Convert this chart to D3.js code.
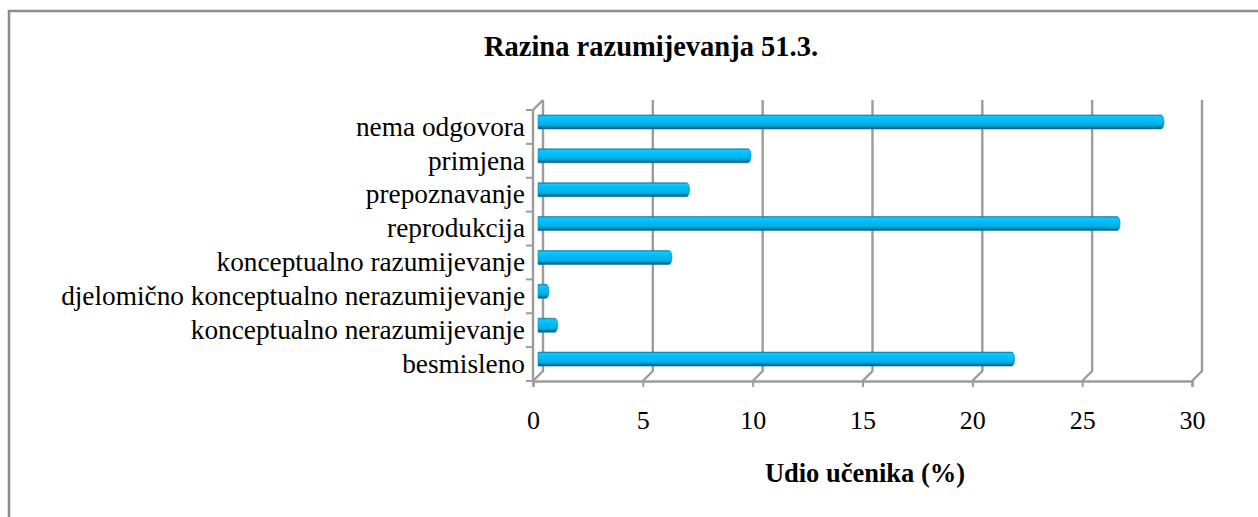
<!DOCTYPE html>
<html>
<head>
<meta charset="utf-8">
<script src="https://cdn.jsdelivr.net/npm/d3@7"></script>
<style>
  body { margin: 0; background: #fff; }
  svg text { font-family: "Liberation Serif", "Times New Roman", serif; fill: #000; }
</style>
</head>
<body>
<div id="chart"></div>
<script>
// data, top row first
const categories = [
    'nema odgovora',
    'primjena',
    'prepoznavanje',
    'reprodukcija',
    'konceptualno razumijevanje',
    'djelomično konceptualno nerazumijevanje',
    'konceptualno nerazumijevanje',
    'besmisleno'
]
const values = [28.5, 9.7, 6.9, 26.5, 6.1, 0.5, 0.9, 21.7]
const xTicks = [0, 5, 10, 15, 20, 25, 30]

const W = 1258, H = 517
const depth = { dx: 10, dy: -10 }   // 3d offset of the back wall
const gridColor = '#9c9c9c'
const serif = '"Liberation Serif", "Times New Roman", serif'

const x = d3.scaleLinear().domain([0, 30]).range([533, 1192])
const y = d3.scaleBand().domain(categories).range([110, 381])

const svg = d3.select('#chart')
    .append('svg')
    .attr('width', W)
    .attr('height', H)
    .attr('font-family', serif)

// gradient for the cylinders
const defs = svg.append('defs')
const grad = defs.append('linearGradient')
    .attr('id', 'cyl')
    .attr('x1', 0).attr('y1', 0).attr('x2', 0).attr('y2', 1)
grad.selectAll('stop')
    .data([
        ['0%', '#0a88b8'],
        ['12%', '#10c8ff'],
        ['35%', '#00bef8'],
        ['72%', '#00ade6'],
        ['88%', '#007eaa'],
        ['100%', '#004f6e']
    ])
    .enter()
    .append('stop')
    .attr('offset', d => d[0])
    .attr('stop-color', d => d[1])

// outer frame
svg.append('path')
    .attr('d', `M9,${H} L9,11 L${W},11`)
    .attr('fill', 'none')
    .attr('stroke', '#8c8c8c')
    .attr('stroke-width', 2.5)

// title
svg.append('text')
    .attr('x', 651)
    .attr('y', 56)
    .attr('text-anchor', 'middle')
    .attr('font-family', serif)
    .style('font-size', '28.5px')
    .style('font-weight', 'bold')
    .text('Razina razumijevanja 51.3.')

const plotTop = y.range()[0], plotBottom = y.range()[1]

// back wall gridlines + floor diagonals
const grid = svg.append('g')
xTicks.forEach(t => {
    const fx = x(t)
    grid.append('path')
        .attr('d', `M${fx},${plotBottom} L${fx + depth.dx},${plotBottom + depth.dy} L${fx + depth.dx},${plotTop + depth.dy}`)
        .attr('fill', 'none')
        .attr('stroke', gridColor)
        .attr('stroke-width', 2.4)
})

// left wall front edge with its top diagonal
svg.append('path')
    .attr('d', `M${x(0)},${plotBottom} L${x(0)},${plotTop} L${x(0) + depth.dx},${plotTop + depth.dy}`)
    .attr('fill', 'none')
    .attr('stroke', gridColor)
    .attr('stroke-width', 2.4)

// ticks on the category axis, at band edges
const edges = categories.map(c => y(c)).concat([plotBottom])
svg.append('g')
    .selectAll('line')
    .data(edges)
    .enter()
    .append('line')
    .attr('x1', x(0) - 7)
    .attr('x2', x(0))
    .attr('y1', d => d)
    .attr('y2', d => d)
    .attr('stroke', gridColor)
    .attr('stroke-width', 2)

// bars as cylinders sitting halfway into the depth
const barH = 14
const bars = svg.append('g')
bars.selectAll('path')
    .data(categories.map((c, i) => ({ c, v: values[i] })))
    .enter()
    .append('path')
    .attr('d', d => {
        const cy = y(d.c) + y.bandwidth() / 2 + depth.dy / 2
        const x0 = x(0) + depth.dx / 2
        const x1 = Math.max(x(d.v) + depth.dx / 2, x0 + 6)
        const r = barH / 2
        return `M${x0},${cy - r} L${x1 - 3},${cy - r} A3,${r} 0 0 1 ${x1 - 3},${cy + r} L${x0},${cy + r} Z`
    })
    .attr('fill', 'url(#cyl)')
    .attr('stroke', '#0f7fa8')
    .attr('stroke-width', 0.6)

// value axis
const xAxis = svg.append('g')
    .attr('transform', `translate(0,${plotBottom})`)
    .call(d3.axisBottom(x).tickValues(xTicks).tickSize(6).tickPadding(24))
    .attr('font-family', serif)
    .attr('font-size', 26)
xAxis.select('.domain')
    .attr('stroke', gridColor)
    .attr('stroke-width', 2.4)
xAxis.selectAll('.tick line')
    .attr('stroke', gridColor)
    .attr('stroke-width', 2)
xAxis.selectAll('text')
    .style('font-family', serif)
    .style('font-size', '26px')

// category labels
const yAxis = svg.append('g')
    .attr('transform', `translate(${x(0)},0)`)
    .call(d3.axisLeft(y).tickSize(0).tickPadding(8))
    .attr('font-family', serif)
    .attr('font-size', 27.3)
yAxis.select('.domain').remove()
yAxis.selectAll('text')
    .style('font-family', serif)
    .style('font-size', '27.3px')

// axis title
svg.append('text')
    .attr('x', 865)
    .attr('y', 482)
    .attr('text-anchor', 'middle')
    .attr('font-family', serif)
    .style('font-size', '26.5px')
    .style('font-weight', 'bold')
    .text('Udio učenika (%)')
</script>
</body>
</html>
